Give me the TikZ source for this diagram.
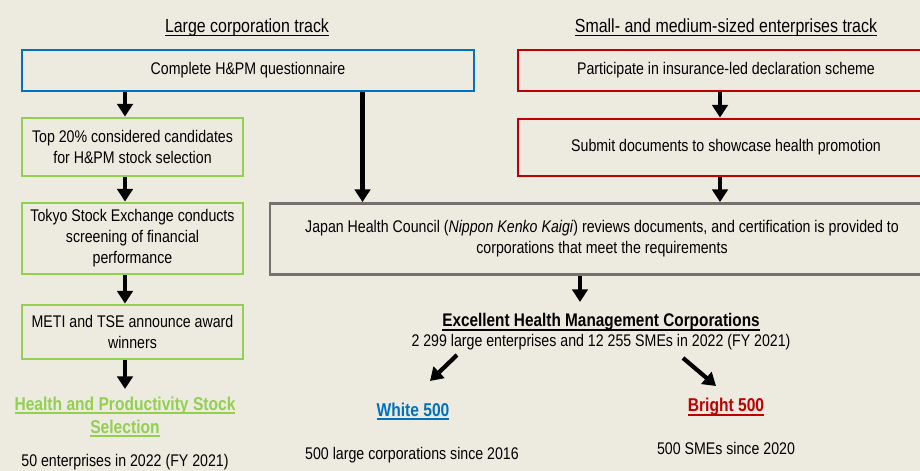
\documentclass[tikz,border=0pt]{standalone}
\usepackage{fontspec}
\setmainfont{Liberation Sans}[FakeStretch=0.84]
\usetikzlibrary{arrows.meta,calc,positioning}

\definecolor{paper}{RGB}{237,234,224}
\definecolor{lcblue}{RGB}{0,112,192}
\definecolor{smered}{RGB}{192,0,0}
\definecolor{stockgreen}{RGB}{146,208,80}
\definecolor{councilgray}{RGB}{118,113,113}

% underline that runs through the descenders, just below the baseline
\newcommand\ulin[2][0.7pt]{\setbox0\hbox{#2}%
  \rlap{\rule[\dimexpr-1.5pt-#1\relax]{\wd0}{#1}}\box0}

\tikzset{
  stepbox/.style={draw, line width=2pt, fill=paper, align=center, inner sep=0pt,
    font=\fontsize{12}{15}\selectfont},
  txt/.style={align=center, inner sep=1pt, anchor=base, font=\fontsize{12}{15}\selectfont},
  track/.style={txt, font=\fontsize{13.5}{16}\selectfont},
  award/.style={align=center, inner sep=1pt, anchor=base,
    font=\fontsize{13.2}{16.4}\selectfont\bfseries},
  bigarrow/.style={line width=3pt, -{Triangle[width=11pt,length=9pt]}},
}

\begin{document}
\begin{tikzpicture}[x=0.025cm, y=-0.025cm]
  \fill[paper] (0,0) rectangle (920,471);
  \useasboundingbox (0,0) rectangle (920,471);

  % track headings
  \node[track] (lct) at (247,33) {\ulin{Large corporation track}};
  \node[track] (smet) at (726,33) {\ulin{Small- and medium-sized enterprises track}};

  % large corporation track
  \node[stepbox, draw=lcblue, minimum width=11.3cm, minimum height=1.025cm]
    (quest) at (248,70.5) {Complete H\&PM questionnaire};
  \node[stepbox, draw=stockgreen, minimum width=5.525cm, minimum height=1.45cm]
    (top) at (132.5,147) {Top 20\% considered candidates\\for H\&PM stock selection};
  \node[stepbox, draw=stockgreen, minimum width=5.525cm, minimum height=1.775cm]
    (tse) at (132.5,238.5) {Tokyo Stock Exchange conducts\\screening of financial\\performance};
  \node[stepbox, draw=stockgreen, minimum width=5.525cm, minimum height=1.35cm]
    (meti) at (132.5,332) {METI and TSE announce award\\winners};
  \node[award, anchor=north, text=stockgreen] (stock) at (125,395)
    {\ulin[1.5pt]{Health and Productivity Stock}\\\ulin[1.5pt]{Selection}};
  \node[txt] (stockn) at (125,466) {50 enterprises in 2022 (FY 2021)};

  % SME track
  \node[stepbox, draw=smered, minimum width=10.4cm, minimum height=1.025cm]
    (decl) at (726,70.5) {Participate in insurance-led declaration scheme};
  \node[stepbox, draw=smered, minimum width=10.4cm, minimum height=1.425cm]
    (subm) at (726,147.5) {Submit documents to showcase health promotion};

  % certification and awards
  \node[stepbox, draw=councilgray, minimum width=16.6cm, minimum height=1.775cm]
    (jhc) at (602,239) {Japan Health Council (\textit{Nippon Kenko Kaigi}) reviews documents, and certification is provided to\\corporations that meet the requirements};
  \node[award, font=\fontsize{13}{16}\selectfont\bfseries] (ehm) at (601,327)
    {\ulin[1.5pt]{Excellent Health Management Corporations}};
  \node[txt] (ehmn) at (601,347) {2 299 large enterprises and 12 255 SMEs in 2022 (FY 2021)};
  \node[award, text=lcblue] (white) at (413,416) {\ulin[1.5pt]{White 500}};
  \node[txt] (whiten) at (412,459) {500 large corporations since 2016};
  \node[award, text=smered] (bright) at (726,412) {\ulin[1.5pt]{Bright 500}};
  \node[txt] (brightn) at (726,454) {500 SMEs since 2020};

  \coordinate (jin) at ($(jhc.north west)+(94,0)$);
  \coordinate (sx) at ($(decl.south)+(-6,0)$);
  \coordinate (jout) at ($(jhc.south)+(-22,0)$);
  \coordinate (ein) at ($(ehm.base)+(-21,-25)$);

  \path[bigarrow] (quest.south -| stock) edge (top.north -| stock);
  \path[bigarrow] (top.south -| stock) edge (tse.north -| stock);
  \path[bigarrow] (tse.south -| stock) edge (meti.north -| stock);
  \path[bigarrow] (meti.south -| stock) edge ($(stock.north)+(0,-6)$);
  \path[bigarrow] (quest.south -| jin) edge (jin);
  \path[bigarrow] (sx) edge (sx |- subm.north);
  \path[bigarrow] (subm.south -| sx) edge (sx |- jhc.north);
  \path[bigarrow] (jout) edge (jout |- ein);
  \path[bigarrow] ($(ehmn.base)+(-144,8)$) edge ($(white.base)+(17,-35)$);
  \path[bigarrow] ($(ehmn.base)+(82,11)$) edge ($(bright.base)+(-10,-26)$);
\end{tikzpicture}
\end{document}
